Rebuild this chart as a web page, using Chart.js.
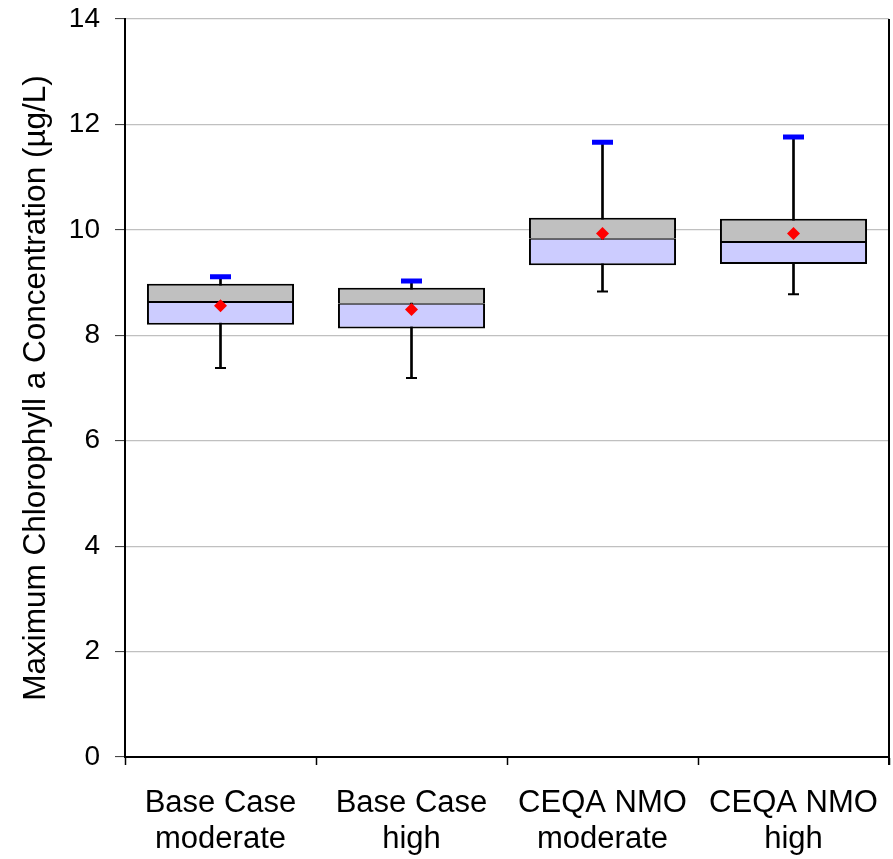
<!DOCTYPE html>
<html>
<head>
<meta charset="utf-8">
<script src="https://cdn.jsdelivr.net/npm/chart.js@4"></script>
<style>
  html, body { margin: 0; padding: 0; background: #fff; overflow: hidden; }
  canvas { display: block; }
</style>
</head>
<body>
<canvas id="grafico" width="893" height="859"></canvas>
<script>
// ---------------------
// Dados
// ---------------------
const categorias = [['Base Case', 'moderate'], ['Base Case', 'high'], ['CEQA NMO', 'moderate'], ['CEQA NMO', 'high']];
const minimos   = [7.38, 7.19, 8.83, 8.78];
const quartil1  = [8.20, 8.13, 9.33, 9.35];
const medianas  = [8.63, 8.60, 9.83, 9.77];
const quartil3  = [8.98, 8.90, 10.23, 10.21];
const maximos   = [9.11, 9.03, 11.66, 11.76];
const medias    = [8.56, 8.49, 9.93, 9.93];
const ticksY    = [0, 2, 4, 6, 8, 10, 12, 14];

const FONTE = 'Liberation Sans, Arial, sans-serif';

// zera o padding automático das escalas (posição da área fixada pelo layout)
function semPadding(scale) {
    scale.paddingTop = 0;
    scale.paddingBottom = 0;
    scale.paddingLeft = 0;
    scale.paddingRight = 0;
}

// borda direita da área do gráfico
const bordaDireita = {
    id: 'bordaDireita',
    afterDatasetsDraw(chart) {
        const { ctx, chartArea } = chart;
        ctx.save();
        ctx.strokeStyle = '#000000';
        ctx.lineWidth = 2;
        ctx.beginPath();
        ctx.moveTo(chartArea.right, chartArea.top);
        ctx.lineTo(chartArea.right, chartArea.bottom + 8);
        ctx.stroke();
        ctx.restore();
    }
};

// ---------------------
// Gráfico
// ---------------------
const ctx = document.getElementById('grafico').getContext('2d');

new Chart(ctx, {
    data: {
        labels: categorias,
        datasets: [
            {
                type: 'line',
                label: 'media',
                data: medias,
                showLine: false,
                pointStyle: 'rectRot',
                pointRadius: 6.5,
                pointBackgroundColor: '#FF0000',
                pointBorderColor: '#FF0000',
                pointBorderWidth: 0,
                order: 0
            },
            {
                type: 'line',
                label: 'max',
                data: maximos,
                showLine: false,
                pointStyle: 'line',
                pointRadius: 10.5,
                pointBorderColor: '#0000FF',
                pointBorderWidth: 5,
                order: 1
            },
            {
                type: 'line',
                label: 'min',
                data: minimos,
                showLine: false,
                pointStyle: 'line',
                pointRadius: 5.5,
                pointBorderColor: '#000000',
                pointBorderWidth: 2,
                order: 1
            },
            {
                type: 'bar',
                label: 'q3',
                data: medianas.map((m, i) => [m, quartil3[i]]),
                backgroundColor: '#C0C0C0',
                borderColor: '#000000',
                borderWidth: { top: 2, left: 2, right: 2, bottom: 1 },
                borderSkipped: false,
                grouped: false,
                barPercentage: 0.77,
                categoryPercentage: 1,
                order: 2
            },
            {
                type: 'bar',
                label: 'q1',
                data: quartil1.map((q, i) => [q, medianas[i]]),
                backgroundColor: '#CCCCFF',
                borderColor: '#000000',
                borderWidth: { top: 1, left: 2, right: 2, bottom: 2 },
                borderSkipped: false,
                grouped: false,
                barPercentage: 0.77,
                categoryPercentage: 1,
                order: 2
            },
            {
                type: 'bar',
                label: 'whisker',
                data: minimos.map((v, i) => [v, maximos[i]]),
                backgroundColor: '#000000',
                borderWidth: 0,
                barThickness: 2,
                grouped: false,
                order: 3
            }
        ]
    },
    options: {
        responsive: false,
        animation: false,
        devicePixelRatio: 1,
        layout: { autoPadding: false, padding: { top: 19, right: 4, left: 0, bottom: 0 } },
        plugins: {
            legend: { display: false },
            tooltip: { enabled: false }
        },
        scales: {
            x: {
                offset: true,
                grid: {
                    offset: true,
                    drawOnChartArea: false,
                    drawTicks: true,
                    tickLength: 8,
                    tickColor: '#000000',
                    tickWidth: 1.5
                },
                border: { color: '#000000', width: 2 },
                ticks: {
                    color: '#000000',
                    padding: 20,
                    maxRotation: 0,
                    autoSkip: false,
                    font: { family: FONTE, size: 31, lineHeight: 1.18 }
                },
                afterFit(scale) { scale.height = 102; semPadding(scale); }
            },
            y: {
                min: 0,
                max: 14,
                afterBuildTicks(scale) { scale.ticks = ticksY.map(v => ({ value: v })); },
                grid: {
                    color: '#C0C0C0',
                    lineWidth: 1.2,
                    tickLength: 10,
                    tickColor: '#333333',
                    tickWidth: 1
                },
                border: { color: '#000000', width: 2 },
                ticks: {
                    color: '#000000',
                    padding: 15,
                    font: { family: FONTE, size: 28 }
                },
                title: {
                    display: true,
                    text: 'Maximum Chlorophyll a Concentration (µg/L)',
                    color: '#000000',
                    padding: { top: 17, bottom: 0 },
                    font: { family: FONTE, size: 31.5 }
                },
                afterFit(scale) { scale.width = 125; semPadding(scale); }
            }
        }
    },
    plugins: [bordaDireita]
});
</script>
</body>
</html>
